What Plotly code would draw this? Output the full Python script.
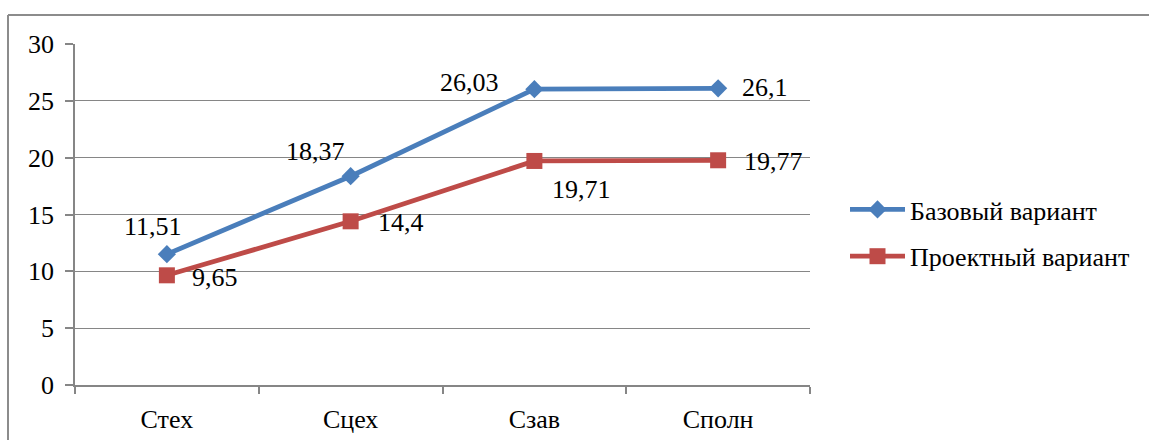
import plotly.graph_objects as go

# --- data ---
categories = ["Стех", "Сцех", "Сзав", "Сполн"]
base_values = [11.51, 18.37, 26.03, 26.1]
project_values = [9.65, 14.4, 19.71, 19.77]
series_names = ["Базовый вариант", "Проектный вариант"]
y_ticks = [0, 5, 10, 15, 20, 25, 30]

# --- styling ---
W, H = 1149, 440
M_L, M_R, M_T, M_B = 75, 339, 44, 55
FONT = "'Times New Roman', 'Liberation Serif', 'DejaVu Serif', serif"
FS = 26
GRID = "#868686"
BLUE = "#4A7EBB"
RED = "#BE4B48"


def fmt(v):
    return f"{v:g}".replace(".", ",")


fig = go.Figure()
fig.add_trace(go.Scatter(
    x=categories, y=base_values, name=series_names[0], mode="lines+markers",
    line=dict(color=BLUE, width=4.8),
    marker=dict(symbol="diamond", size=14, color=BLUE),
    legendgroup="base",
))
fig.add_trace(go.Scatter(
    x=categories, y=project_values, name=series_names[1], mode="lines+markers",
    line=dict(color=RED, width=4.8),
    marker=dict(symbol="square", size=16, color=RED),
    legendgroup="project",
))

# data labels: (xanchor, xshift, yshift) per point
base_label_pos = [("right", 17, 28), ("right", -4, 25), ("right", -33, 7), ("left", 22, 1)]
proj_label_pos = [("left", 23, -2), ("left", 25, -1), ("left", 16, -29), ("left", 24, -1)]

annotations = []
for vals, pos in ((base_values, base_label_pos), (project_values, proj_label_pos)):
    for c, v, (xa, xs, ys) in zip(categories, vals, pos):
        annotations.append(dict(
            x=c, y=v, text=fmt(v), showarrow=False, xanchor=xa, yanchor="middle",
            xshift=xs, yshift=ys, font=dict(family=FONT, size=FS, color="black"),
        ))

pw = W - M_L - M_R
ph = H - M_T - M_B


def px_x(p):
    return (p - M_L) / pw


def px_y(p):
    return 1 - (p - M_T) / ph


# outer chart frame (top and left edges)
shapes = [
    dict(type="line", xref="paper", yref="paper", x0=px_x(8), x1=px_x(W), y0=px_y(15), y1=px_y(15),
         line=dict(color="#8C8C8C", width=2)),
    dict(type="line", xref="paper", yref="paper", x0=px_x(8), x1=px_x(8), y0=px_y(15), y1=px_y(H),
         line=dict(color="#8C8C8C", width=2)),
]

fig.update_layout(
    width=W, height=H,
    margin=dict(l=M_L, r=M_R, t=M_T, b=M_B, autoexpand=False),
    paper_bgcolor="white", plot_bgcolor="white",
    font=dict(family=FONT, size=FS, color="black"),
    showlegend=True,
    legend=dict(x=px_x(845), y=px_y(186), xanchor="left", yanchor="top",
                font=dict(family=FONT, size=FS, color="black"),
                bgcolor="rgba(0,0,0,0)", tracegroupgap=10, itemwidth=55),
    annotations=annotations,
    shapes=shapes,
)
fig.update_xaxes(
    type="category", range=[-0.5, len(categories) - 0.5], automargin=False,
    showgrid=False, showline=True, linecolor=GRID, linewidth=1.5,
    ticks="outside", ticklen=7, tickcolor=GRID, tickwidth=1.5, tickson="boundaries",
    tickfont=dict(family=FONT, size=FS, color="black"), ticklabelstandoff=10,
)
fig.update_yaxes(
    range=[0, 30], tickvals=y_ticks, showgrid=True, gridcolor=GRID, gridwidth=1.3,
    showline=True, linecolor=GRID, linewidth=1.5, zeroline=False, automargin=False,
    ticks="outside", ticklen=8, tickcolor=GRID, tickwidth=1.5,
    tickfont=dict(family=FONT, size=FS, color="black"), ticklabelstandoff=6,
)

fig.write_html("out.html")
